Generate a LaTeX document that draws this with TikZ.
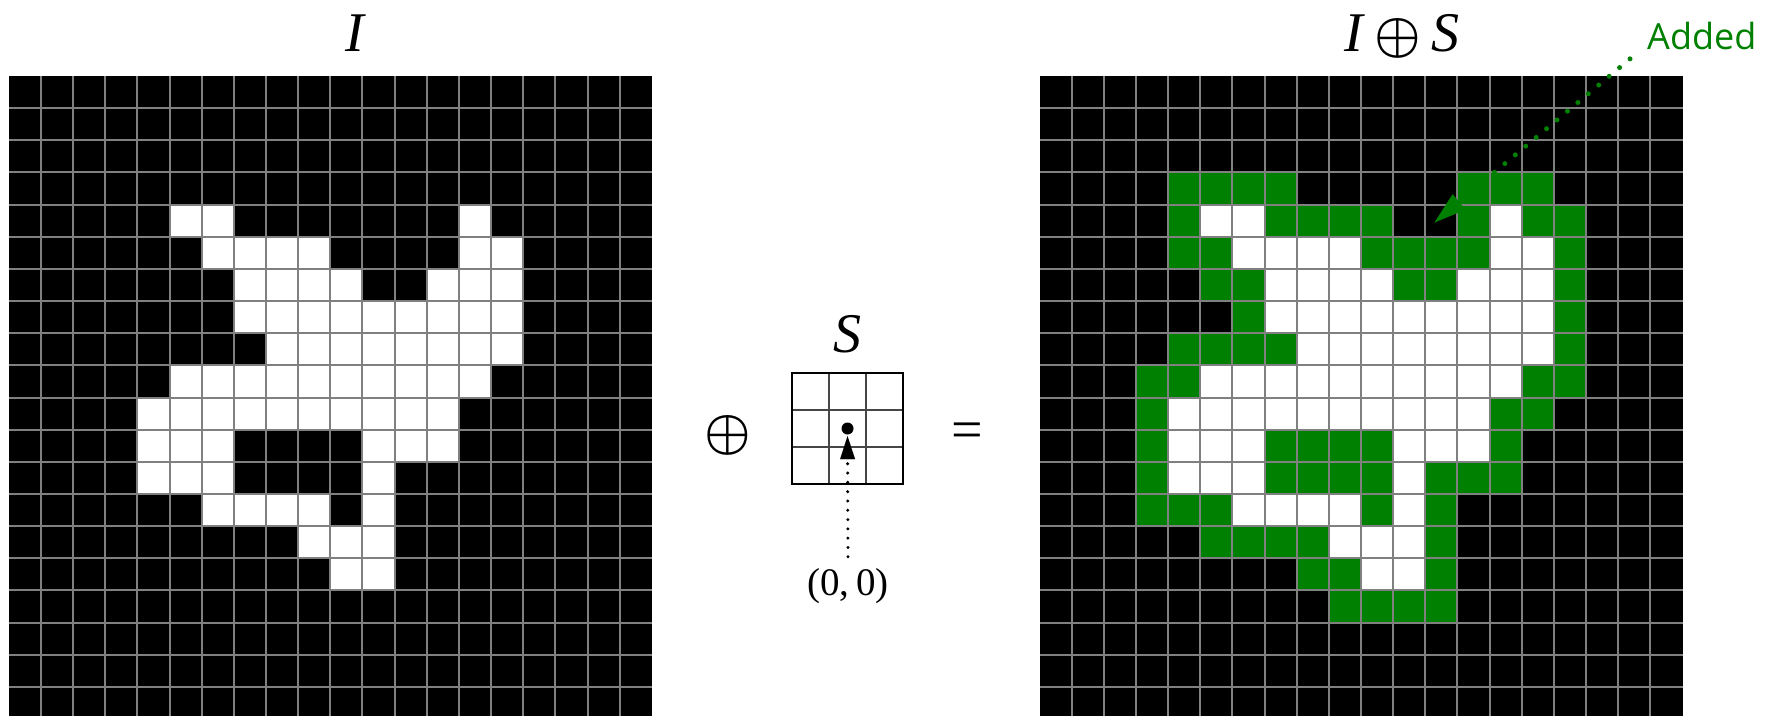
\documentclass[tikz,border=0pt]{standalone}
\usepackage{fix-cm}
\usepackage{graphicx}
\usepackage{fontspec}
\setmainfont{Liberation Serif}
\newfontfamily\addedfont{Open Sans}
\usetikzlibrary{arrows.meta}
\definecolor{addgreen}{RGB}{0,128,0}
\definecolor{gridgray}{RGB}{128,128,128}
\tikzset{
  gridline/.style={draw=gridgray, line width=2pt},
  bigmath/.style={font=\fontsize{56}{60}\selectfont, inner sep=0pt},
  smallmath/.style={font=\fontsize{39}{42}\selectfont, inner sep=0pt},
  sinner/.style={draw={rgb,255:red,70;green,70;blue,70}, line width=1.2pt},
  souter/.style={draw=black, line width=2pt},
  blackdots/.style={draw=black, line width=3.3pt, line cap=round, dash pattern=on 0pt off 9.3pt},
  greendots/.style={draw=addgreen, line width=5pt, line cap=round, dash pattern=on 0pt off 13.6pt},
}
\begin{document}
\begin{tikzpicture}[x=1pt,y=-1pt]
\useasboundingbox (0,0) rectangle (1771,715);
\clip (0,0) rectangle (1771,715);

% ---------- left grid I ----------
\begin{scope}[shift={(8.8pt,-76pt)},x=32.15pt,y=-32.15pt]
  \fill[black] (0,0) rectangle (20,20);
  \foreach \r/\a/\b in {4/5/6,4/14/14,5/6/9,5/14/15,6/7/10,6/13/15,7/7/15,8/8/15,9/5/14,10/4/13,11/4/6,11/11/13,12/4/6,12/11/11,13/6/9,13/11/11,14/9/11,15/10/11}
    \fill[white] (\a,\r) rectangle (\b+1,\r+1);
  \foreach \i in {1,...,19} {
    \draw[gridline] (\i,0) -- (\i,20);
    \draw[gridline] (0,\i) -- (20,\i);
  }
\end{scope}

% ---------- right grid I (+) S ----------
\begin{scope}[shift={(1039.5pt,-76pt)},x=32.15pt,y=-32.15pt]
  \fill[black] (0,0) rectangle (20,20);
  \foreach \r/\a/\b in {3/4/7,3/13/15,4/4/10,4/13/16,5/4/16,6/5/16,7/6/16,8/4/16,9/3/16,10/3/15,11/3/14,12/3/14,13/3/12,14/5/12,15/8/12,16/9/12}
    \fill[addgreen] (\a,\r) rectangle (\b+1,\r+1);
  \foreach \r/\a/\b in {4/5/6,4/14/14,5/6/9,5/14/15,6/7/10,6/13/15,7/7/15,8/8/15,9/5/14,10/4/13,11/4/6,11/11/13,12/4/6,12/11/11,13/6/9,13/11/11,14/9/11,15/10/11}
    \fill[white] (\a,\r) rectangle (\b+1,\r+1);
  \foreach \i in {1,...,19} {
    \draw[gridline] (\i,0) -- (\i,20);
    \draw[gridline] (0,\i) -- (20,\i);
  }
\end{scope}

% ---------- labels ----------
\node[bigmath, anchor=base] (ilabel) at (355,51) {\itshape I};
\node[bigmath, anchor=base] (reslabel) at (1402,51) {{\itshape I}\hspace{0.2em}\resizebox*{!}{40pt}{\boldmath$\oplus$}\hspace{0.2em}{\itshape S}};
\node[font=\addedfont\fontsize{36}{40}\selectfont, text=addgreen, anchor=base west, inner sep=0pt] (added) at (1647,49.3) {Added};

% ---------- middle: operator, structuring element, equals ----------
\node[bigmath] (opsym) at (728,435) {\resizebox*{!}{40pt}{\boldmath$\oplus$}};
\node[bigmath, anchor=base] (slabel) at (847,352) {\itshape S};
\draw[sinner] (829,373) -- (829,484) (866,373) -- (866,484) (792,410) -- (903,410) (792,447) -- (903,447);
\draw[souter] (792,373) rectangle (903,484);
\node[circle, fill=black, inner sep=0pt, minimum size=12pt] (dot) at (847.5,428.5) {};
\node[bigmath, anchor=base] (eqsym) at (967,448) {=};
\node[smallmath, anchor=base] (origin) at (848,595) {(0,\,0)};
\draw[blackdots, -{Triangle[length=23pt,width=15pt,line width=0.01pt]}] ([yshift=11pt]origin.north) -- ([yshift=-1.5pt]dot.south);

% ---------- "Added" pointer ----------
\coordinate (addtip) at (1434.5,222.5);
\draw[greendots, -{Triangle[length=32pt,width=20pt,line width=0.01pt]}] ([xshift=-17pt,yshift=-9pt]added.south west) -- (addtip);
\end{tikzpicture}
\end{document}
